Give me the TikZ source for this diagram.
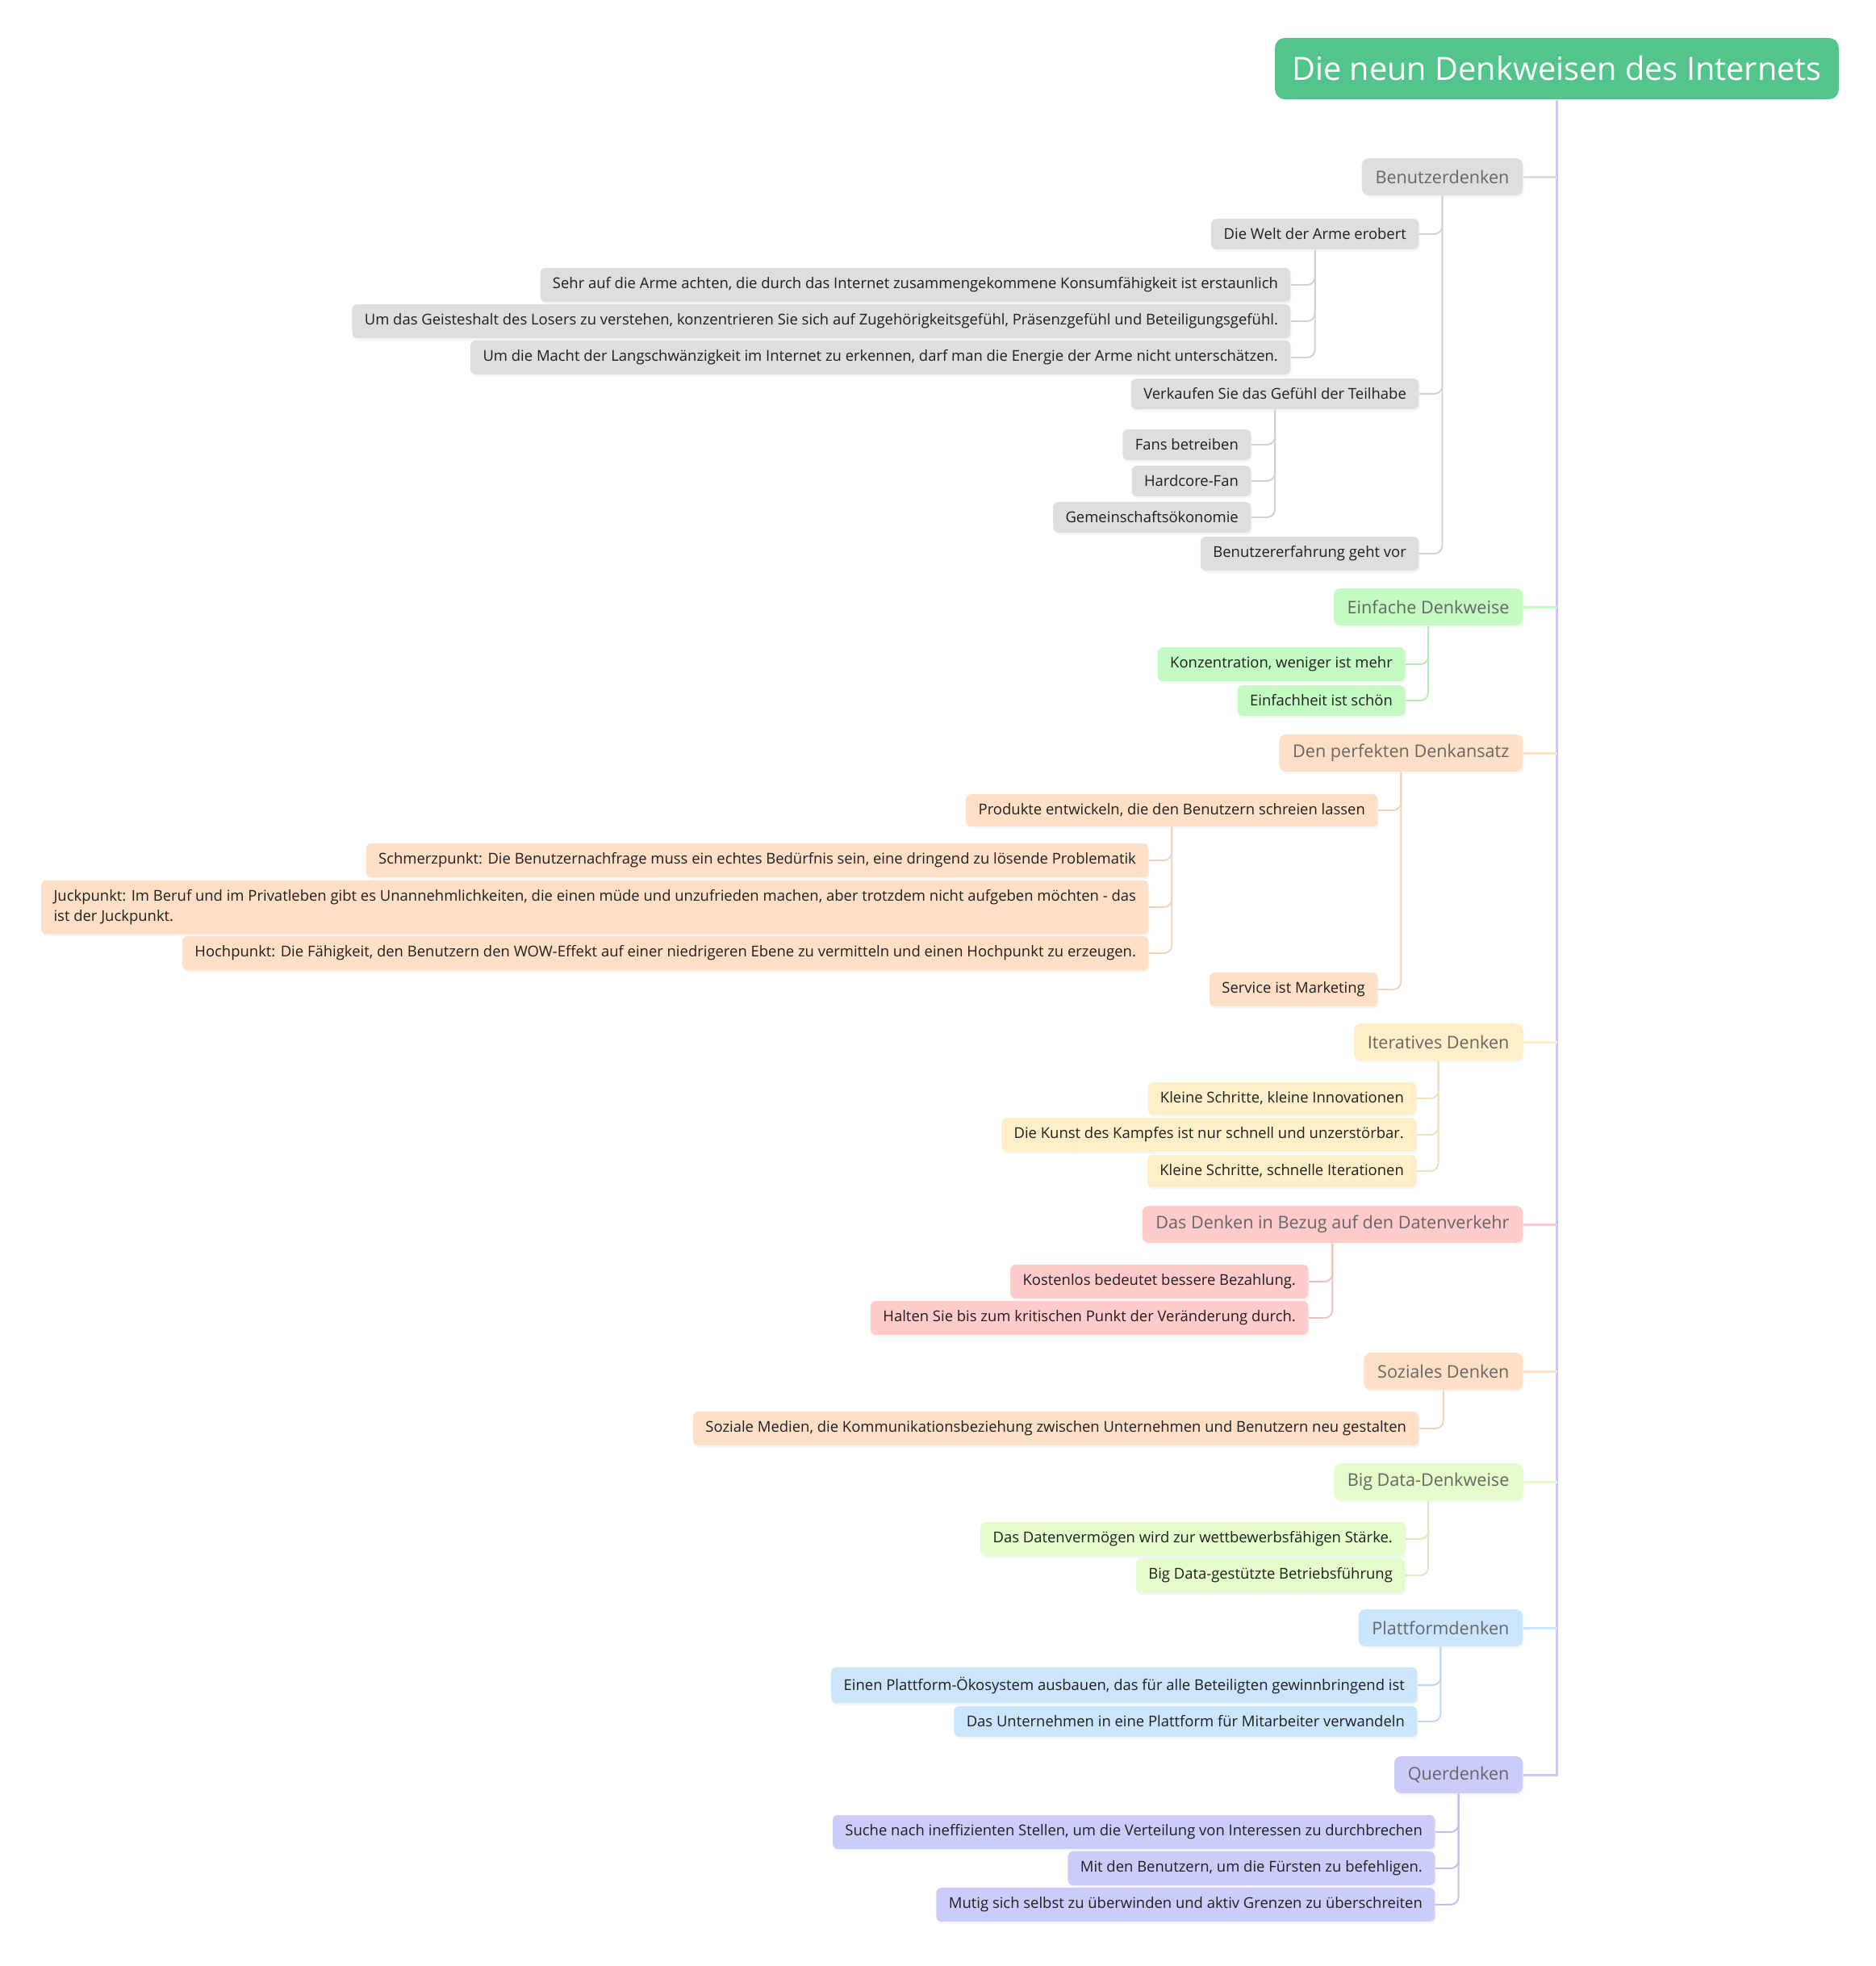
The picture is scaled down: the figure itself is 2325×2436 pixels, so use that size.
\documentclass[tikz,border=0pt]{standalone}
\usepackage{fontspec}
\setmainfont{Open Sans}
\usetikzlibrary{positioning,shadows}
\definecolor{rootgreen}{HTML}{52C48C}
\definecolor{cgray}{HTML}{DEDEDE}
\definecolor{cgreen}{HTML}{C3FBC3}
\definecolor{cpeach}{HTML}{FFE0C6}
\definecolor{cyellow}{HTML}{FFEFC8}
\definecolor{cpink}{HTML}{FFCBCB}
\definecolor{clime}{HTML}{E5FCCB}
\definecolor{cblue}{HTML}{CBE5FD}
\definecolor{clav}{HTML}{CCCCFB}
\definecolor{trunkc}{HTML}{C9C9F5}
\tikzset{root/.style={fill=rootgreen,text=white,rounded corners=3.4pt,minimum height=21.6pt,inner xsep=6pt,
    font=\fontsize{11.3}{13}\selectfont},
  topic/.style={anchor=east,fill=#1,rounded corners=2.4pt,minimum height=13pt,inner xsep=4.8pt,text=black!60,
    font=\fontsize{6.15}{7.5}\selectfont,drop shadow={opacity=0.07,shadow xshift=0.4pt,shadow yshift=-0.8pt}},
  leaf/.style={anchor=east,fill=#1,rounded corners=1.8pt,minimum height=8.8pt,inner xsep=4.4pt,text=black!88,
    font=\fontsize{5.25}{6.4}\selectfont,drop shadow={opacity=0.07,shadow xshift=0.4pt,shadow yshift=-0.8pt}},
  link/.style={rounded corners=2.8pt,line width=0.55pt,draw=#1!94!black},
  stem/.style={line width=0.85pt,draw=#1}}

\begin{document}
\begin{tikzpicture}[x=0.1mm,y=-0.1mm]
\useasboundingbox (0,0) rectangle (2325,2436);
% 1 unit = 1 px of the 2325 x 2436 sheet, y grows downwards
\node[root] (root) at (1929.5,85) {Die neun Denkweisen des Internets};

% main branches, right edges on one line
\node[topic=cgray]   (ben)    at (1888,219)  {Benutzerdenken};
\node[topic=cgreen]  (einf)   at (1888,752)  {Einfache Denkweise};
\node[topic=cpeach]  (perf)   at (1888,933)  {Den perfekten Denkansatz};
\node[topic=cyellow] (iter)   at (1888,1291) {Iteratives Denken};
\node[topic=cpink]   (daten)  at (1888,1517) {Das Denken in Bezug auf den Datenverkehr};
\node[topic=cpeach]  (sozial) at (1888,1699) {Soziales Denken};
\node[topic=clime]   (big)    at (1888,1836) {Big Data-Denkweise};
\node[topic=cblue]   (platt)  at (1888,2017) {Plattformdenken};
\node[topic=clav]    (quer)   at (1888,2199) {Querdenken};

\draw[stem=trunkc] (root.south) |- (quer.east);
\foreach \t/\c in {ben/cgray,einf/cgreen,perf/cpeach,iter/cyellow,daten/cpink,sozial/cpeach,big/clime,platt/cblue}
  \draw[stem=\c] (\t.east) -- (\t.east -| root.south);

% Benutzerdenken
\node[leaf=cgray] (welt)  at (1759,290) {Die Welt der Arme erobert};
\node[leaf=cgray] (sehr)  at (1600,353) {Sehr auf die Arme achten, die durch das Internet zusammengekommene Konsumfähigkeit ist erstaunlich};
\node[leaf=cgray] (geist) at (1600,398) {Um das Geisteshalt des Losers zu verstehen, konzentrieren Sie sich auf Zugehörigkeitsgefühl, Präsenzgefühl und Beteiligungsgefühl.};
\node[leaf=cgray] (macht) at (1600,443) {Um die Macht der Langschwänzigkeit im Internet zu erkennen, darf man die Energie der Arme nicht unterschätzen.};
\node[leaf=cgray] (verk)  at (1759,488) {Verkaufen Sie das Gefühl der Teilhabe};
\node[leaf=cgray] (fans)  at (1551,551) {Fans betreiben};
\node[leaf=cgray] (hard)  at (1551,596) {Hardcore-Fan};
\node[leaf=cgray] (gem)   at (1551,641) {Gemeinschaftsökonomie};
\node[leaf=cgray] (erf)   at (1759,686) {Benutzererfahrung geht vor};
\foreach \c in {welt,verk,erf} \draw[link=cgray] (ben.south) |- (\c.east);
\foreach \c in {sehr,geist,macht} \draw[link=cgray] (welt.south) |- (\c.east);
\foreach \c in {fans,hard,gem} \draw[link=cgray] (verk.south) |- (\c.east);

% Einfache Denkweise
\node[leaf=cgreen] (konz)   at (1742,823) {Konzentration, weniger ist mehr};
\node[leaf=cgreen] (schoen) at (1742,868) {Einfachheit ist schön};
\foreach \c in {konz,schoen} \draw[link=cgreen] (einf.south) |- (\c.east);

% Den perfekten Denkansatz
\node[leaf=cpeach] (prod)    at (1708,1004) {Produkte entwickeln, die den Benutzern schreien lassen};
\node[leaf=cpeach] (schmerz) at (1424,1066) {Schmerzpunkt: Die Benutzernachfrage muss ein echtes Bedürfnis sein, eine dringend zu lösende Problematik};
\node[leaf=cpeach,align=left,font=\fontsize{5.25}{7}\selectfont] (juck) at (1424,1124)
  {Juckpunkt: Im Beruf und im Privatleben gibt es Unannehmlichkeiten, die einen müde und unzufrieden machen, aber trotzdem nicht aufgeben möchten - das\\ist der Juckpunkt.};
\node[leaf=cpeach] (hoch)    at (1424,1181) {Hochpunkt: Die Fähigkeit, den Benutzern den WOW-Effekt auf einer niedrigeren Ebene zu vermitteln und einen Hochpunkt zu erzeugen.};
\node[leaf=cpeach] (serv)    at (1708,1226) {Service ist Marketing};
\foreach \c in {prod,serv} \draw[link=cpeach] (perf.south) |- (\c.east);
\foreach \c in {schmerz,juck,hoch} \draw[link=cpeach] (prod.south) |- (\c.east);

% Iteratives Denken
\node[leaf=cyellow] (kleinA) at (1756,1361) {Kleine Schritte, kleine Innovationen};
\node[leaf=cyellow] (kunst)  at (1756,1406) {Die Kunst des Kampfes ist nur schnell und unzerstörbar.};
\node[leaf=cyellow] (kleinB) at (1756,1451) {Kleine Schritte, schnelle Iterationen};
\foreach \c in {kleinA,kunst,kleinB} \draw[link=cyellow] (iter.south) |- (\c.east);

% Datenverkehr
\node[leaf=cpink] (kosten) at (1622,1588) {Kostenlos bedeutet bessere Bezahlung.};
\node[leaf=cpink] (halten) at (1622,1633) {Halten Sie bis zum kritischen Punkt der Veränderung durch.};
\foreach \c in {kosten,halten} \draw[link=cpink] (daten.south) |- (\c.east);

% Soziales Denken
\node[leaf=cpeach] (medien) at (1759,1770) {Soziale Medien, die Kommunikationsbeziehung zwischen Unternehmen und Benutzern neu gestalten};
\draw[link=cpeach] (sozial.south) |- (medien.east);

% Big Data
\node[leaf=clime] (verm) at (1742,1907) {Das Datenvermögen wird zur wettbewerbsfähigen Stärke.};
\node[leaf=clime] (betr) at (1742,1952) {Big Data-gestützte Betriebsführung};
\foreach \c in {verm,betr} \draw[link=clime] (big.south) |- (\c.east);

% Plattformdenken
\node[leaf=cblue] (oeko)   at (1757,2088) {Einen Plattform-Ökosystem ausbauen, das für alle Beteiligten gewinnbringend ist};
\node[leaf=cblue] (untern) at (1757,2133) {Das Unternehmen in eine Plattform für Mitarbeiter verwandeln};
\foreach \c in {oeko,untern} \draw[link=cblue] (platt.south) |- (\c.east);

% Querdenken
\node[leaf=clav] (suche)  at (1779,2270) {Suche nach ineffizienten Stellen, um die Verteilung von Interessen zu durchbrechen};
\node[leaf=clav] (fuerst) at (1779,2315) {Mit den Benutzern, um die Fürsten zu befehligen.};
\node[leaf=clav] (mutig)  at (1779,2360) {Mutig sich selbst zu überwinden und aktiv Grenzen zu überschreiten};
\foreach \c in {suche,fuerst,mutig} \draw[link=clav] (quer.south) |- (\c.east);
\end{tikzpicture}
\end{document}
